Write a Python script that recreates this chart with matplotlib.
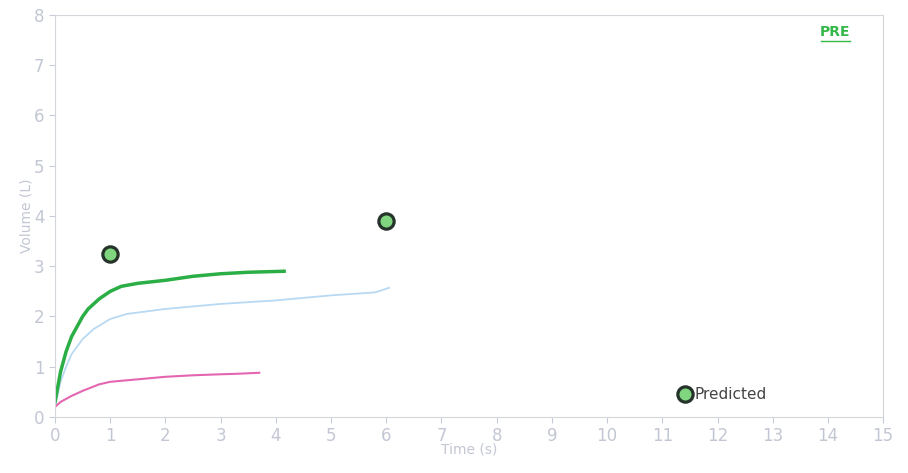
import matplotlib.pyplot as plt

# flow-volume traces
t_green = [0, 0.05, 0.1, 0.2, 0.3, 0.4, 0.5, 0.6, 0.8, 1.0, 1.2, 1.5, 2.0, 2.5, 3.0, 3.5, 4.15]
v_green = [0.3, 0.6, 0.9, 1.3, 1.6, 1.8, 2.0, 2.15, 2.35, 2.5, 2.6, 2.66, 2.72, 2.8, 2.85, 2.88, 2.9]
t_blue = [0, 0.1, 0.2, 0.3, 0.5, 0.7, 1.0, 1.3, 2.0, 3.0, 4.0, 5.0, 5.8, 6.05]
v_blue = [0.2, 0.7, 1.0, 1.25, 1.55, 1.75, 1.95, 2.05, 2.15, 2.25, 2.32, 2.42, 2.48, 2.57]
t_pink = [0, 0.1, 0.3, 0.5, 0.8, 1.0, 1.5, 2.0, 2.5, 3.0, 3.3, 3.7]
v_pink = [0.2, 0.3, 0.42, 0.52, 0.65, 0.7, 0.75, 0.8, 0.83, 0.85, 0.86, 0.88]
pred_t = [1, 6]
pred_v = [3.25, 3.9]

fig = plt.figure(figsize=(9.08, 4.73), dpi=100)
ax = fig.add_axes([0.0606, 0.1184, 0.912, 0.85])

ax.plot(t_blue, v_blue, color='#b9d9f2', lw=1.3)
ax.plot(t_pink, v_pink, color='#e466b0', lw=1.5)
ax.plot(t_green, v_green, color='#2aae45', lw=2.5)
ax.plot(pred_t, pred_v, 'o', ms=11, mfc='#7fd67f', mec='#26332a', mew=2.3,
        ls='none', label='Predicted')

ax.set_xlim(0, 15)
ax.set_ylim(0, 8)
ax.set_xticks(range(16))
ax.set_yticks(range(9))
tick_col = '#c3c7d3'
ax.tick_params(colors='#c8ccd6', labelcolor=tick_col, labelsize=12, length=4, direction='out')
for s in ax.spines.values():
    s.set_color('#d4d6dc')
ax.set_xlabel('Time (s)', color=tick_col, fontsize=10, labelpad=-2)
ax.set_ylabel('Volume (L)', color=tick_col, fontsize=10, labelpad=0)

# green "PRE" tag, underlined by hand
ax.text(0.942, 0.957, 'PRE', transform=ax.transAxes, color='#35b84a',
        fontsize=10, fontweight='bold', ha='center', va='center')
ax.plot([0.925, 0.96], [0.935, 0.935], transform=ax.transAxes, color='#35b84a', lw=1)

ax.legend(loc='center left', bbox_to_anchor=(0.735, 0.055), frameon=False,
          handletextpad=0.1, handlelength=1.0, fontsize=11, labelcolor='#444444')

fig.savefig('out.png', dpi=100)
